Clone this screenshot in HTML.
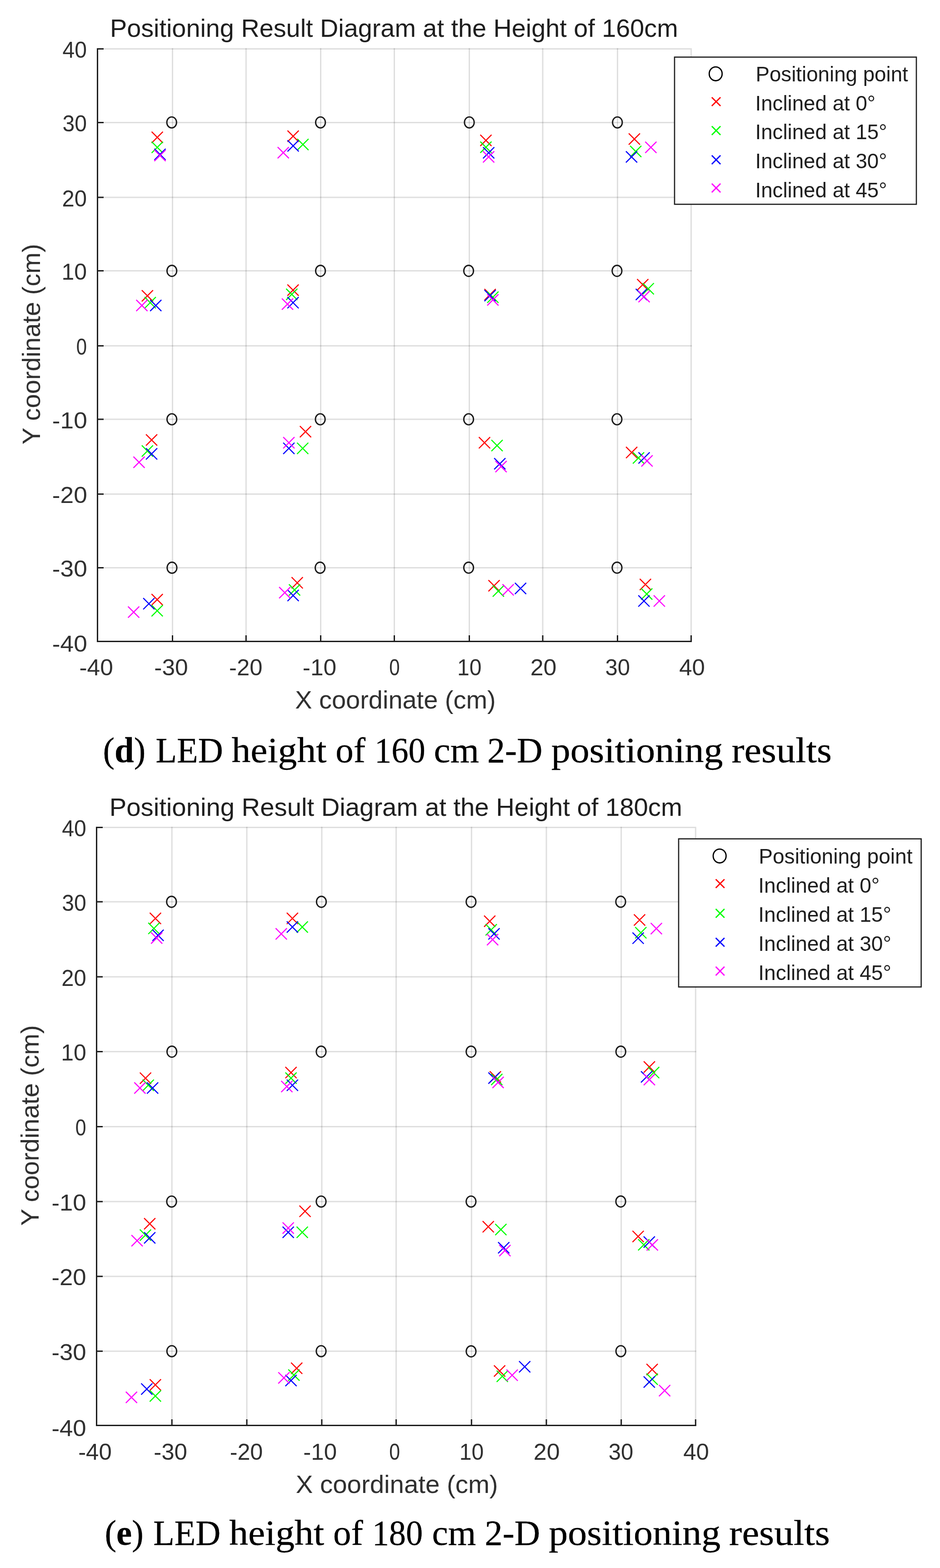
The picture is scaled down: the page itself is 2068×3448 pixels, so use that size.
<!DOCTYPE html>
<html><head><meta charset="utf-8"><title>Positioning results</title>
<style>
html,body{margin:0;padding:0;background:#fff;}
svg{display:block;}
.t{font-family:'Liberation Sans', Arial, Helvetica, sans-serif;fill:#303030;}
.c{font-family:'Liberation Serif', 'Times New Roman', serif;fill:#000;stroke:#000;stroke-width:0.35px;}
</style></head><body>
<svg width="2068" height="3448" viewBox="0 0 2068 3448">
<rect x="0" y="0" width="2068" height="3448" fill="#fff"/>
<path d="M379.5 106V1410.5M541.3 106V1410.5M705.5 106V1410.5M867.5 106V1410.5M1032.5 106V1410.5M1194 106V1410.5M1358.5 106V1410.5M1520.5 109V1410.5" stroke="#262626" stroke-opacity="0.15" stroke-width="3" fill="none"/>
<path d="M214.5 1248.5H1522M214.5 1086.5H1522M214.5 922H1522M214.5 760.5H1522M214.5 595.5H1522M214.5 434H1522M214.5 269.5H1522M214.5 107.5H1522" stroke="#262626" stroke-opacity="0.15" stroke-width="3" fill="none"/>
<path d="M214.5 107.5V1410.5H1520.5" stroke="#1e1e1e" stroke-width="3" fill="none" stroke-linejoin="miter" stroke-linecap="square"/>
<path d="M214.5 1410.5h13.5M214.5 1410.5v-13.5M214.5 1248.5h13.5M379.5 1410.5v-13.5M214.5 1086.5h13.5M541.3 1410.5v-13.5M214.5 922h13.5M705.5 1410.5v-13.5M214.5 760.5h13.5M867.5 1410.5v-13.5M214.5 595.5h13.5M1032.5 1410.5v-13.5M214.5 434h13.5M1194 1410.5v-13.5M214.5 269.5h13.5M1358.5 1410.5v-13.5M214.5 107.5h13.5M1520.5 1410.5v-13.5" stroke="#1e1e1e" stroke-width="3" fill="none"/>
<text class="t" font-size="50" transform="translate(114.87 1433.3) scale(1.0662 1)">-40</text>
<text class="t" font-size="50" transform="translate(174.44 1484.7) scale(1.0294 1)">-40</text>
<text class="t" font-size="50" transform="translate(114.87 1268) scale(1.0662 1)">-30</text>
<text class="t" font-size="50" transform="translate(339.34 1484.7) scale(1.0294 1)">-30</text>
<text class="t" font-size="50" transform="translate(114.87 1106) scale(1.0662 1)">-20</text>
<text class="t" font-size="50" transform="translate(504.07 1484.7) scale(1.0147 1)">-20</text>
<text class="t" font-size="50" transform="translate(114.87 941.5) scale(1.0662 1)">-10</text>
<text class="t" font-size="50" transform="translate(665.84 1484.7) scale(1.0294 1)">-10</text>
<text class="t" font-size="50" transform="translate(167.66 780) scale(0.8400 1)">0</text>
<text class="t" font-size="50" transform="translate(856.36 1484.7) scale(0.8400 1)">0</text>
<text class="t" font-size="50" transform="translate(135.5 615) scale(1.0000 1)">10</text>
<text class="t" font-size="50" transform="translate(1006.12 1484.7) scale(0.9608 1)">10</text>
<text class="t" font-size="50" transform="translate(136.54 453.5) scale(0.9808 1)">20</text>
<text class="t" font-size="50" transform="translate(1166.72 1484.7) scale(1.0385 1)">20</text>
<text class="t" font-size="50" transform="translate(137.54 289) scale(0.9623 1)">30</text>
<text class="t" font-size="50" transform="translate(1331.42 1484.7) scale(0.9811 1)">30</text>
<text class="t" font-size="50" transform="translate(137.54 127) scale(0.9623 1)">40</text>
<text class="t" font-size="50" transform="translate(1494.18 1484.7) scale(1.0189 1)">40</text>
<text class="t" style="fill:#1e1e1e" font-size="55" transform="translate(241.94 81.3) scale(1.0147 1)">Positioning Result Diagram at the Height of 160cm</text>
<text class="t" font-size="55" transform="translate(649.18 1558) scale(1.0172 1)">X coordinate (cm)</text>
<text class="t" font-size="55" transform="translate(87.8 977.42) rotate(-90) scale(1.0186 1)">Y coordinate (cm)</text>
<ellipse cx="377.7" cy="269.2" rx="10.7" ry="12.1" stroke="#1a1a1a" stroke-width="2.9" fill="none"/>
<ellipse cx="705.1" cy="269.2" rx="10.7" ry="12.1" stroke="#1a1a1a" stroke-width="2.9" fill="none"/>
<ellipse cx="1032.5" cy="269.2" rx="10.7" ry="12.1" stroke="#1a1a1a" stroke-width="2.9" fill="none"/>
<ellipse cx="1358.3" cy="269.2" rx="10.7" ry="12.1" stroke="#1a1a1a" stroke-width="2.9" fill="none"/>
<ellipse cx="378.1" cy="595.6" rx="10.7" ry="12.1" stroke="#1a1a1a" stroke-width="2.9" fill="none"/>
<ellipse cx="705.1" cy="595.6" rx="10.7" ry="12.1" stroke="#1a1a1a" stroke-width="2.9" fill="none"/>
<ellipse cx="1031" cy="595.6" rx="10.7" ry="12.1" stroke="#1a1a1a" stroke-width="2.9" fill="none"/>
<ellipse cx="1357.4" cy="595.6" rx="10.7" ry="12.1" stroke="#1a1a1a" stroke-width="2.9" fill="none"/>
<ellipse cx="378.1" cy="922" rx="10.7" ry="12.1" stroke="#1a1a1a" stroke-width="2.9" fill="none"/>
<ellipse cx="704.6" cy="922" rx="10.7" ry="12.1" stroke="#1a1a1a" stroke-width="2.9" fill="none"/>
<ellipse cx="1031" cy="922" rx="10.7" ry="12.1" stroke="#1a1a1a" stroke-width="2.9" fill="none"/>
<ellipse cx="1357.4" cy="922" rx="10.7" ry="12.1" stroke="#1a1a1a" stroke-width="2.9" fill="none"/>
<ellipse cx="378.4" cy="1248.4" rx="10.7" ry="12.1" stroke="#1a1a1a" stroke-width="2.9" fill="none"/>
<ellipse cx="704.2" cy="1248.4" rx="10.7" ry="12.1" stroke="#1a1a1a" stroke-width="2.9" fill="none"/>
<ellipse cx="1031" cy="1248.3" rx="10.7" ry="12.1" stroke="#1a1a1a" stroke-width="2.9" fill="none"/>
<ellipse cx="1357.5" cy="1248.3" rx="10.7" ry="12.1" stroke="#1a1a1a" stroke-width="2.9" fill="none"/>
<path d="M333.6 289.6L358.4 314.4M333.6 314.4L358.4 289.6M632.5 287.1L657.3 311.9M632.5 311.9L657.3 287.1M1056.6 296.3L1081.4 321.1M1056.6 321.1L1081.4 296.3M1383.2 293.3L1408 318.1M1383.2 318.1L1408 293.3M311.9 638.1L336.7 662.9M311.9 662.9L336.7 638.1M632.3 625.6L657.1 650.4M632.3 650.4L657.1 625.6M1065.8 635.3L1090.6 660.1M1065.8 660.1L1090.6 635.3M1401.6 613.6L1426.4 638.4M1401.6 638.4L1426.4 613.6M321.1 955.1L345.9 979.9M321.1 979.9L345.9 955.1M659.7 936.9L684.5 961.7M659.7 961.7L684.5 936.9M1053.5 961.2L1078.3 986M1053.5 986L1078.3 961.2M1377.2 982.7L1402 1007.5M1377.2 1007.5L1402 982.7M333.4 1306.1L358.2 1330.9M333.4 1330.9L358.2 1306.1M641.5 1269.2L666.3 1294M641.5 1294L666.3 1269.2M1074.5 1275.6L1099.3 1300.4M1074.5 1300.4L1099.3 1275.6M1407.5 1272.8L1432.3 1297.6M1407.5 1297.6L1432.3 1272.8" stroke="#ff0000" stroke-width="2.4" fill="none"/>
<path d="M333.6 311.6L358.4 336.4M333.6 336.4L358.4 311.6M654 305.3L678.8 330.1M654 330.1L678.8 305.3M1056.6 311.4L1081.4 336.2M1056.6 336.2L1081.4 311.4M1386.2 320.6L1411 345.4M1386.2 345.4L1411 320.6M318.1 653.2L342.9 678M318.1 678L342.9 653.2M629.5 634.8L654.3 659.6M629.5 659.6L654.3 634.8M1071.9 641.2L1096.7 666M1071.9 666L1096.7 641.2M1413.8 622.5L1438.6 647.3M1413.8 647.3L1438.6 622.5M311.9 979.4L336.7 1004.2M311.9 1004.2L336.7 979.4M653.5 973.5L678.3 998.3M653.5 998.3L678.3 973.5M1081.1 967.3L1105.9 992.1M1081.1 992.1L1105.9 967.3M1392.3 994.6L1417.1 1019.4M1392.3 1019.4L1417.1 994.6M333.4 1330.6L358.2 1355.4M333.4 1355.4L358.2 1330.6M635.6 1284.8L660.4 1309.6M635.6 1309.6L660.4 1284.8M1084 1287.3L1108.8 1312.1M1084 1312.1L1108.8 1287.3M1410.4 1293.8L1435.2 1318.6M1410.4 1318.6L1435.2 1293.8" stroke="#00ff00" stroke-width="2.4" fill="none"/>
<path d="M339.6 327.1L364.4 351.9M339.6 351.9L364.4 327.1M632.5 308.4L657.3 333.2M632.5 333.2L657.3 308.4M1062.7 323.6L1087.5 348.4M1062.7 348.4L1087.5 323.6M1377 332.6L1401.8 357.4M1377 357.4L1401.8 332.6M330.3 659.3L355.1 684.1M330.3 684.1L355.1 659.3M632.3 653.2L657.1 678M632.3 678L657.1 653.2M1065.8 637.6L1090.6 662.4M1065.8 662.4L1090.6 637.6M1398.7 635.1L1423.5 659.9M1398.7 659.9L1423.5 635.1M321.1 985.7L345.9 1010.5M321.1 1010.5L345.9 985.7M623.1 973.5L647.9 998.3M623.1 998.3L647.9 973.5M1087.2 1007.4L1112 1032.2M1087.2 1032.2L1112 1007.4M1404.6 994.6L1429.4 1019.4M1404.6 1019.4L1429.4 994.6M315.1 1315.2L339.9 1340M315.1 1340L339.9 1315.2M632.5 1297L657.3 1321.8M632.5 1321.8L657.3 1297M1132.8 1281.6L1157.6 1306.4M1132.8 1306.4L1157.6 1281.6M1404.3 1309.2L1429.1 1334M1404.3 1334L1429.1 1309.2" stroke="#0000ff" stroke-width="2.4" fill="none"/>
<path d="M339.6 329.6L364.4 354.4M339.6 354.4L364.4 329.6M610.8 323.4L635.6 348.2M610.8 348.2L635.6 323.4M1062.6 332.6L1087.4 357.4M1062.6 357.4L1087.4 332.6M1419.5 311.6L1444.3 336.4M1419.5 336.4L1444.3 311.6M299.7 659.3L324.5 684.1M299.7 684.1L324.5 659.3M620.1 656.3L644.9 681.1M620.1 681.1L644.9 656.3M1071.9 647.1L1096.7 671.9M1071.9 671.9L1096.7 647.1M1404.6 639.8L1429.4 664.6M1404.6 664.6L1429.4 639.8M293.5 1004.1L318.3 1028.9M293.5 1028.9L318.3 1004.1M623.1 961.2L647.9 986M623.1 986L647.9 961.2M1089.9 1013.6L1114.7 1038.4M1089.9 1038.4L1114.7 1013.6M1411 1001.1L1435.8 1025.9M1411 1025.9L1435.8 1001.1M281.6 1333.6L306.4 1358.4M281.6 1358.4L306.4 1333.6M614.1 1290.9L638.9 1315.7M614.1 1315.7L638.9 1290.9M1105.5 1284.6L1130.3 1309.4M1105.5 1309.4L1130.3 1284.6M1438.1 1309.2L1462.9 1334M1438.1 1334L1462.9 1309.2" stroke="#ff00ff" stroke-width="2.4" fill="none"/>
<rect x="1484" y="125.6" width="532" height="323.6" fill="#fff" stroke="#1e1e1e" stroke-width="2.6"/>
<ellipse cx="1574.5" cy="162.3" rx="14.2" ry="15.2" stroke="#000" stroke-width="2.8" fill="none"/>
<path d="M1565.9 213.9L1585.1 233.1M1565.9 233.1L1585.1 213.9" stroke="#ff0000" stroke-width="2.8" fill="none"/>
<path d="M1565.9 277.6L1585.1 296.8M1565.9 296.8L1585.1 277.6" stroke="#00ff00" stroke-width="2.8" fill="none"/>
<path d="M1565.9 341.8L1585.1 361M1565.9 361L1585.1 341.8" stroke="#0000ff" stroke-width="2.8" fill="none"/>
<path d="M1565.9 403.7L1585.1 422.9M1565.9 422.9L1585.1 403.7" stroke="#ff00ff" stroke-width="2.8" fill="none"/>
<text class="t" style="fill:#1e1e1e" font-size="46" transform="translate(1662.42 178.8) scale(0.9937 1)">Positioning point</text>
<text class="t" style="fill:#1e1e1e" font-size="46" transform="translate(1661.43 242.5) scale(0.9937 1)">Inclined at 0°</text>
<text class="t" style="fill:#1e1e1e" font-size="46" transform="translate(1661.43 306.2) scale(0.9937 1)">Inclined at 15°</text>
<text class="t" style="fill:#1e1e1e" font-size="46" transform="translate(1661.43 369.9) scale(0.9937 1)">Inclined at 30°</text>
<text class="t" style="fill:#1e1e1e" font-size="46" transform="translate(1661.43 433.6) scale(0.9937 1)">Inclined at 45°</text>
<text class="c" font-size="79" transform="translate(226.49 1676.3) scale(0.9706 1)">(<tspan font-weight="bold">d</tspan>)</text>
<text class="c" font-size="79" transform="translate(342.57 1676.3) scale(0.9644 1)">LED</text>
<text class="c" font-size="79" transform="translate(509.5 1676.3) scale(1.0581 1)">height</text>
<text class="c" font-size="79" transform="translate(738.3 1676.3) scale(0.9984 1)">of</text>
<text class="c" font-size="79" transform="translate(823.94 1676.3) scale(0.9436 1)">160</text>
<text class="c" font-size="79" transform="translate(954.61 1676.3) scale(1.0290 1)">cm</text>
<text class="c" font-size="79" transform="translate(1071.93 1676.3) scale(0.9906 1)">2-D</text>
<text class="c" font-size="79" transform="translate(1212.64 1676.3) scale(1.0632 1)">positioning</text>
<text class="c" font-size="79" transform="translate(1609.43 1676.3) scale(1.0690 1)">results</text>
<path d="M378.2 1818V3134.5M543 1818V3134.5M707.9 1818V3134.5M871.5 1818V3134.5M1037.3 1818V3134.5M1202 1818V3134.5M1366.7 1818V3134.5M1530.3 1821V3134.5" stroke="#262626" stroke-opacity="0.15" stroke-width="3" fill="none"/>
<path d="M212.5 2971.2H1531.8M212.5 2806.7H1531.8M212.5 2642.2H1531.8M212.5 2477.4H1531.8M212.5 2312.6H1531.8M212.5 2148H1531.8M212.5 1983.1H1531.8M212.5 1819.5H1531.8" stroke="#262626" stroke-opacity="0.15" stroke-width="3" fill="none"/>
<path d="M212.5 1819.5V3134.5H1530.3" stroke="#1e1e1e" stroke-width="3" fill="none" stroke-linejoin="miter" stroke-linecap="square"/>
<path d="M212.5 3134.5h13.5M212.5 3134.5v-13.5M212.5 2971.2h13.5M378.2 3134.5v-13.5M212.5 2806.7h13.5M543 3134.5v-13.5M212.5 2642.2h13.5M707.9 3134.5v-13.5M212.5 2477.4h13.5M871.5 3134.5v-13.5M212.5 2312.6h13.5M1037.3 3134.5v-13.5M212.5 2148h13.5M1202 3134.5v-13.5M212.5 1983.1h13.5M1366.7 3134.5v-13.5M212.5 1819.5h13.5M1530.3 3134.5v-13.5" stroke="#1e1e1e" stroke-width="3" fill="none"/>
<text class="t" font-size="50.5" transform="translate(113.38 3157.5) scale(1.0461 1)">-40</text>
<text class="t" font-size="50.5" transform="translate(172.13 3210.2) scale(1.0100 1)">-40</text>
<text class="t" font-size="50.5" transform="translate(113.38 2990.89) scale(1.0461 1)">-30</text>
<text class="t" font-size="50.5" transform="translate(338.23 3210.2) scale(1.0100 1)">-30</text>
<text class="t" font-size="50.5" transform="translate(113.38 2826.39) scale(1.0461 1)">-20</text>
<text class="t" font-size="50.5" transform="translate(505.66 3210.2) scale(0.9956 1)">-20</text>
<text class="t" font-size="50.5" transform="translate(113.38 2661.89) scale(1.0461 1)">-10</text>
<text class="t" font-size="50.5" transform="translate(667.33 3210.2) scale(1.0100 1)">-10</text>
<text class="t" font-size="50.5" transform="translate(165.79 2497.1) scale(0.8484 1)">0</text>
<text class="t" font-size="50.5" transform="translate(856.2 3210.2) scale(0.8484 1)">0</text>
<text class="t" font-size="50.5" transform="translate(134.22 2332.3) scale(0.9906 1)">10</text>
<text class="t" font-size="50.5" transform="translate(1010.8 3210.2) scale(0.9517 1)">10</text>
<text class="t" font-size="50.5" transform="translate(135.25 2167.7) scale(0.9719 1)">20</text>
<text class="t" font-size="50.5" transform="translate(1173.87 3210.2) scale(1.0291 1)">20</text>
<text class="t" font-size="50.5" transform="translate(136.24 2002.79) scale(0.9539 1)">30</text>
<text class="t" font-size="50.5" transform="translate(1338.77 3210.2) scale(0.9726 1)">30</text>
<text class="t" font-size="50.5" transform="translate(136.24 1839.19) scale(0.9539 1)">40</text>
<text class="t" font-size="50.5" transform="translate(1503.22 3210.2) scale(1.0100 1)">40</text>
<text class="t" style="fill:#1e1e1e" font-size="55" transform="translate(240.81 1793.6) scale(1.0229 1)">Positioning Result Diagram at the Height of 180cm</text>
<text class="t" font-size="55" transform="translate(650.77 3283.3) scale(1.0251 1)">X coordinate (cm)</text>
<text class="t" font-size="55" transform="translate(84.7 2695.52) rotate(-90) scale(1.0189 1)">Y coordinate (cm)</text>
<ellipse cx="377.3" cy="1983.1" rx="10.7" ry="12.1" stroke="#1a1a1a" stroke-width="2.9" fill="none"/>
<ellipse cx="707" cy="1983.1" rx="10.7" ry="12.1" stroke="#1a1a1a" stroke-width="2.9" fill="none"/>
<ellipse cx="1036.3" cy="1983.1" rx="10.7" ry="12.1" stroke="#1a1a1a" stroke-width="2.9" fill="none"/>
<ellipse cx="1365.5" cy="1982.9" rx="10.7" ry="12.1" stroke="#1a1a1a" stroke-width="2.9" fill="none"/>
<ellipse cx="378.1" cy="2312.6" rx="10.7" ry="12.1" stroke="#1a1a1a" stroke-width="2.9" fill="none"/>
<ellipse cx="706.5" cy="2312.6" rx="10.7" ry="12.1" stroke="#1a1a1a" stroke-width="2.9" fill="none"/>
<ellipse cx="1036.3" cy="2312.6" rx="10.7" ry="12.1" stroke="#1a1a1a" stroke-width="2.9" fill="none"/>
<ellipse cx="1365.8" cy="2312.6" rx="10.7" ry="12.1" stroke="#1a1a1a" stroke-width="2.9" fill="none"/>
<ellipse cx="377.5" cy="2642.2" rx="10.7" ry="12.1" stroke="#1a1a1a" stroke-width="2.9" fill="none"/>
<ellipse cx="706.5" cy="2642.2" rx="10.7" ry="12.1" stroke="#1a1a1a" stroke-width="2.9" fill="none"/>
<ellipse cx="1036.3" cy="2642.2" rx="10.7" ry="12.1" stroke="#1a1a1a" stroke-width="2.9" fill="none"/>
<ellipse cx="1365.6" cy="2642.1" rx="10.7" ry="12.1" stroke="#1a1a1a" stroke-width="2.9" fill="none"/>
<ellipse cx="377.9" cy="2971.2" rx="10.7" ry="12.1" stroke="#1a1a1a" stroke-width="2.9" fill="none"/>
<ellipse cx="706.5" cy="2971.2" rx="10.7" ry="12.1" stroke="#1a1a1a" stroke-width="2.9" fill="none"/>
<ellipse cx="1036.4" cy="2971.6" rx="10.7" ry="12.1" stroke="#1a1a1a" stroke-width="2.9" fill="none"/>
<ellipse cx="1365.8" cy="2971.2" rx="10.7" ry="12.1" stroke="#1a1a1a" stroke-width="2.9" fill="none"/>
<path d="M329.5 2007.2L354.3 2032M329.5 2032L354.3 2007.2M630.9 2007.2L655.7 2032M630.9 2032L655.7 2007.2M1065 2013.4L1089.8 2038.2M1065 2038.2L1089.8 2013.4M1394.6 2010.6L1419.4 2035.4M1394.6 2035.4L1419.4 2010.6M307.7 2358.5L332.5 2383.3M307.7 2383.3L332.5 2358.5M627.8 2346.2L652.6 2371M627.8 2371L652.6 2346.2M1077.4 2355.6L1102.2 2380.4M1077.4 2380.4L1102.2 2355.6M1416.2 2333.9L1441 2358.7M1416.2 2358.7L1441 2333.9M317 2678.6L341.8 2703.4M317 2703.4L341.8 2678.6M658.7 2651.2L683.5 2676M658.7 2676L683.5 2651.2M1061.8 2685.2L1086.6 2710M1061.8 2710L1086.6 2685.2M1391.5 2706.5L1416.3 2731.3M1391.5 2731.3L1416.3 2706.5M329.4 3032.9L354.2 3057.7M329.4 3057.7L354.2 3032.9M640.3 2996.3L665.1 3021.1M640.3 3021.1L665.1 2996.3M1086.7 3002.3L1111.5 3027.1M1086.7 3027.1L1111.5 3002.3M1422.3 2999.1L1447.1 3023.9M1422.3 3023.9L1447.1 2999.1" stroke="#ff0000" stroke-width="2.4" fill="none"/>
<path d="M326.2 2029.2L351 2054M326.2 2054L351 2029.2M652.6 2026.1L677.4 2050.9M652.6 2050.9L677.4 2026.1M1068.3 2032.2L1093.1 2057M1068.3 2057L1093.1 2032.2M1397.4 2038.7L1422.2 2063.5M1397.4 2063.5L1422.2 2038.7M313.8 2374L338.6 2398.8M313.8 2398.8L338.6 2374M627.8 2358.3L652.6 2383.1M627.8 2383.1L652.6 2358.3M1080.5 2361.3L1105.3 2386.1M1080.5 2386.1L1105.3 2361.3M1425.6 2346.2L1450.4 2371M1425.6 2371L1450.4 2346.2M307.6 2703.6L332.4 2728.4M307.6 2728.4L332.4 2703.6M652.6 2697.4L677.4 2722.2M652.6 2722.2L677.4 2697.4M1089.5 2691.3L1114.3 2716.1M1089.5 2716.1L1114.3 2691.3M1403.9 2724.8L1428.7 2749.6M1403.9 2749.6L1428.7 2724.8M329.4 3057.4L354.2 3082.2M329.4 3082.2L354.2 3057.4M634.2 3011.4L659 3036.2M634.2 3036.2L659 3011.4M1092.7 3014L1117.5 3038.8M1092.7 3038.8L1117.5 3014M1422.3 3020.3L1447.1 3045.1M1422.3 3045.1L1447.1 3020.3" stroke="#00ff00" stroke-width="2.4" fill="none"/>
<path d="M335.3 2044.3L360.1 2069.1M335.3 2069.1L360.1 2044.3M630.9 2026.1L655.7 2050.9M630.9 2050.9L655.7 2026.1M1074.4 2041.2L1099.2 2066M1074.4 2066L1099.2 2041.2M1391.5 2050.7L1416.3 2075.5M1391.5 2075.5L1416.3 2050.7M323.3 2380.1L348.1 2404.9M323.3 2404.9L348.1 2380.1M630.9 2374L655.7 2398.8M630.9 2398.8L655.7 2374M1074.4 2358.3L1099.2 2383.1M1074.4 2383.1L1099.2 2358.3M1410.1 2355.6L1434.9 2380.4M1410.1 2380.4L1434.9 2355.6M317 2709.6L341.8 2734.4M317 2734.4L341.8 2709.6M621.7 2697.4L646.5 2722.2M621.7 2722.2L646.5 2697.4M1095.8 2731.4L1120.6 2756.2M1095.8 2756.2L1120.6 2731.4M1416 2718.9L1440.8 2743.7M1416 2743.7L1440.8 2718.9M310.5 3042L335.3 3066.8M310.5 3066.8L335.3 3042M627.8 3023.4L652.6 3048.2M627.8 3048.2L652.6 3023.4M1141.9 2993.1L1166.7 3017.9M1141.9 3017.9L1166.7 2993.1M1416 3026.6L1440.8 3051.4M1416 3051.4L1440.8 3026.6" stroke="#0000ff" stroke-width="2.4" fill="none"/>
<path d="M332.3 2050.4L357.1 2075.2M332.3 2075.2L357.1 2050.4M606.4 2041.2L631.2 2066M606.4 2066L631.2 2041.2M1071.3 2053.9L1096.1 2078.7M1071.3 2078.7L1096.1 2053.9M1431.6 2029.5L1456.4 2054.3M1431.6 2054.3L1456.4 2029.5M295.4 2380.1L320.2 2404.9M295.4 2404.9L320.2 2380.1M618.6 2376.8L643.4 2401.6M618.6 2401.6L643.4 2376.8M1083.4 2367.9L1108.2 2392.7M1083.4 2392.7L1108.2 2367.9M1416.2 2361.6L1441 2386.4M1416.2 2386.4L1441 2361.6M289.2 2715.8L314 2740.6M289.2 2740.6L314 2715.8M621.7 2688L646.5 2712.8M621.7 2712.8L646.5 2688M1098.4 2737.6L1123.2 2762.4M1098.4 2762.4L1123.2 2737.6M1422.7 2725.1L1447.5 2749.9M1422.7 2749.9L1447.5 2725.1M276.8 3060.4L301.6 3085.2M276.8 3085.2L301.6 3060.4M612.2 3017.5L637 3042.3M612.2 3042.3L637 3017.5M1114.3 3011.7L1139.1 3036.5M1114.3 3036.5L1139.1 3011.7M1449.8 3045.5L1474.6 3070.3M1449.8 3070.3L1474.6 3045.5" stroke="#ff00ff" stroke-width="2.4" fill="none"/>
<rect x="1493" y="1844.6" width="533.6" height="325.7" fill="#fff" stroke="#1e1e1e" stroke-width="2.6"/>
<ellipse cx="1583.2" cy="1882.3" rx="14.2" ry="15.2" stroke="#000" stroke-width="2.8" fill="none"/>
<path d="M1574.6 1933.4L1593.8 1952.6M1574.6 1952.6L1593.8 1933.4" stroke="#ff0000" stroke-width="2.8" fill="none"/>
<path d="M1574.6 1998.8L1593.8 2018M1574.6 2018L1593.8 1998.8" stroke="#00ff00" stroke-width="2.8" fill="none"/>
<path d="M1574.6 2062.4L1593.8 2081.6M1574.6 2081.6L1593.8 2062.4" stroke="#0000ff" stroke-width="2.8" fill="none"/>
<path d="M1574.6 2125.8L1593.8 2145M1574.6 2145L1593.8 2125.8" stroke="#ff00ff" stroke-width="2.8" fill="none"/>
<text class="t" style="fill:#1e1e1e" font-size="46" transform="translate(1669.19 1898.6) scale(1.0024 1)">Positioning point</text>
<text class="t" style="fill:#1e1e1e" font-size="46" transform="translate(1668.19 1962.8) scale(1.0024 1)">Inclined at 0°</text>
<text class="t" style="fill:#1e1e1e" font-size="46" transform="translate(1668.19 2027) scale(1.0024 1)">Inclined at 15°</text>
<text class="t" style="fill:#1e1e1e" font-size="46" transform="translate(1668.19 2091.2) scale(1.0024 1)">Inclined at 30°</text>
<text class="t" style="fill:#1e1e1e" font-size="46" transform="translate(1668.19 2155.4) scale(1.0024 1)">Inclined at 45°</text>
<text class="c" font-size="79" transform="translate(230.48 3397) scale(0.9720 1)">(<tspan font-weight="bold">e</tspan>)</text>
<text class="c" font-size="79" transform="translate(337.27 3397) scale(0.9644 1)">LED</text>
<text class="c" font-size="79" transform="translate(504.2 3397) scale(1.0581 1)">height</text>
<text class="c" font-size="79" transform="translate(733 3397) scale(0.9984 1)">of</text>
<text class="c" font-size="79" transform="translate(818.64 3397) scale(0.9427 1)">180</text>
<text class="c" font-size="79" transform="translate(950.6 3397) scale(1.0000 1)">cm</text>
<text class="c" font-size="79" transform="translate(1066.53 3397) scale(0.9906 1)">2-D</text>
<text class="c" font-size="79" transform="translate(1207.34 3397) scale(1.0632 1)">positioning</text>
<text class="c" font-size="79" transform="translate(1604.12 3397) scale(1.0754 1)">results</text>
</svg>
</body></html>
